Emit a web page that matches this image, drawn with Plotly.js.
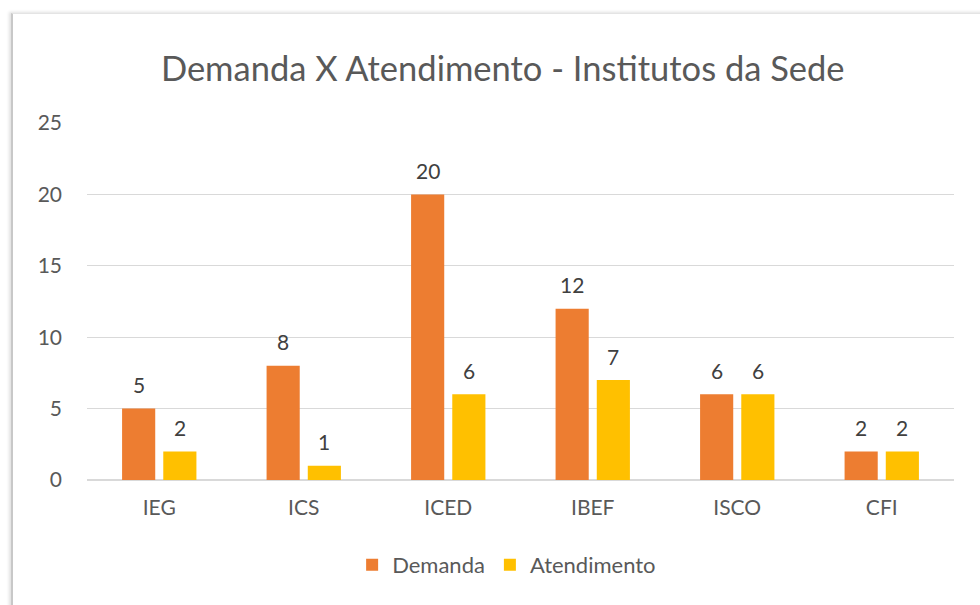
<!DOCTYPE html>
<html>
<head>
<meta charset="utf-8">
<script src="https://cdn.plot.ly/plotly-3.0.1.min.js"></script>
<style>
  html, body { margin:0; padding:0; background:#fff; }
  #chart { width:980px; height:605px; }
  #frame { position:absolute; left:11px; top:13px; width:990px; height:620px;
           border-left:2px solid #c8c8c8; border-top:1px solid #e4e4e4;
           box-shadow:-2px -1px 3px rgba(0,0,0,0.12); pointer-events:none; }
</style>
</head>
<body>
<div id="chart"></div>
<div id="frame"></div>
<script>
const categories = ["IEG", "ICS", "ICED", "IBEF", "ISCO", "CFI"];
const demanda = [5, 8, 20, 12, 6, 2];
const atendimento = [2, 1, 6, 7, 6, 2];
const yTicks = [0, 5, 10, 15, 20, 25];

const orange = "#ED7D31";
const yellow = "#FFC000";
const textColor = "#595959";
const font = "Lato, 'Open Sans', sans-serif";

const traces = [
  { type: "bar", name: "Demanda", x: categories, y: demanda, marker: { color: orange }, hoverinfo: "x+y" },
  { type: "bar", name: "Atendimento", x: categories, y: atendimento, marker: { color: yellow }, hoverinfo: "x+y" }
];

const annotations = [];
[[demanda, -20.5], [atendimento, 20.5]].forEach(([vals, dx]) => {
  vals.forEach((v, i) => {
    annotations.push({
      x: categories[i], y: v, xref: "x", yref: "y", text: String(v),
      showarrow: false, xshift: dx, yshift: 24,
      font: { family: font, size: 21, color: "#404040" }
    });
  });
});

const layout = {
  width: 980, height: 605,
  margin: { l: 87, r: 26, t: 123, b: 125 },
  paper_bgcolor: "#fff", plot_bgcolor: "#fff",
  title: { text: "Demanda X Atendimento - Institutos da Sede", x: 0.513, xanchor: "center", y: 0.886, yanchor: "middle",
           font: { family: font, size: 34.5, color: textColor } },
  barmode: "group", bargap: 0.43, bargroupgap: 0.195,
  xaxis: { type: "category", showgrid: false, showline: false, ticks: "", zeroline: false,
           tickfont: { family: font, size: 21, color: textColor }, ticklabelstandoff: 13 },
  yaxis: { range: [0, 25], tickvals: yTicks, ticktext: yTicks.map(String), showgrid: true, gridcolor: "#d9d9d9", gridwidth: 1.3,
           zeroline: true, zerolinecolor: "#d9d9d9", zerolinewidth: 1.5, showline: false, ticks: "",
           tickfont: { family: font, size: 21, color: textColor }, ticklabelstandoff: 24 },
  legend: { orientation: "h", x: 0.484, xanchor: "center", y: -0.238, yanchor: "middle", itemwidth: 30,
            font: { family: font, size: 22, color: textColor }, traceorder: "normal" },
  annotations: annotations,
  showlegend: true
};

Plotly.newPlot("chart", traces, layout, { displayModeBar: false, staticPlot: true });
</script>
</body>
</html>
